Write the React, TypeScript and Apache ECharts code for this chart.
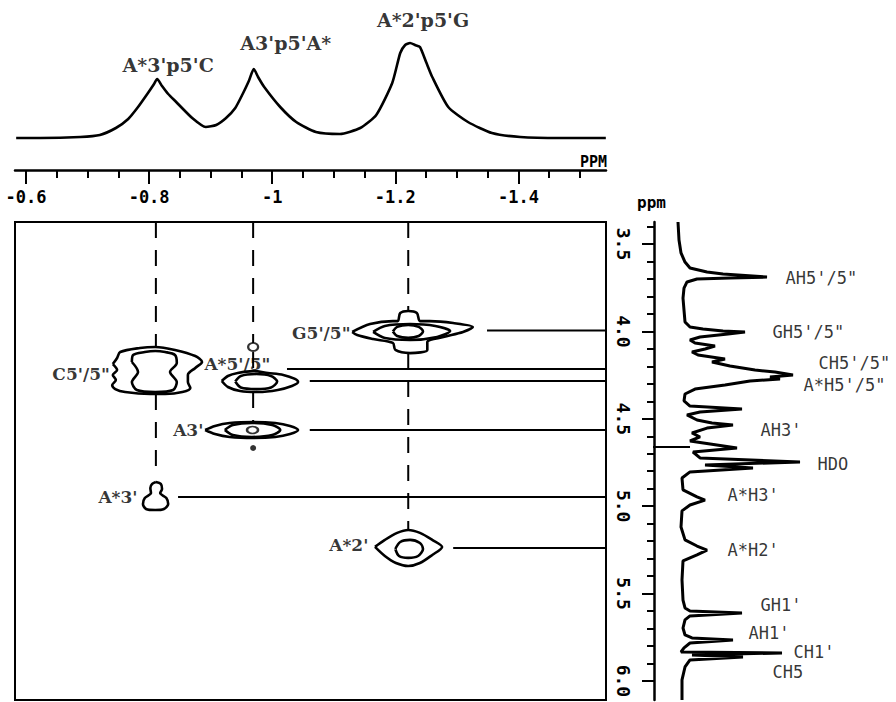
import React, { useEffect, useRef } from "react";
import * as echarts from "echarts";

// ---- axis ranges (ppm) ----
const P_MIN = -1.5423; // 31P, right edge
const P_MAX = -0.5821; // 31P, left edge
const H_MIN = 3.374; // 1H, top edge
const H_MAX = 6.109; // 1H, bottom edge

// ---- tick values / labels ----
const P_TICKS = [-0.6, -0.8, -1.0, -1.2, -1.4];
const P_TICK_LABELS = ["-0.6", "-0.8", "-1", "-1.2", "-1.4"];
const P_MINOR_TICKS = [-0.65, -0.7, -0.75, -0.85, -0.9, -0.95, -1.05, -1.1, -1.15, -1.25, -1.3, -1.35, -1.45, -1.5];
const H_TICKS = [3.5, 4.0, 4.5, 5.0, 5.5, 6.0];
const H_TICK_LABELS = ["3.5", "4.0", "4.5", "5.0", "5.5", "6.0"];
const H_MINOR_TICKS = [3.4, 3.6, 3.7, 3.8, 3.9, 4.1, 4.2, 4.3, 4.4, 4.6, 4.7, 4.8, 4.9, 5.1, 5.2, 5.3, 5.4, 5.6, 5.7, 5.8, 5.9];

// ---- 31P 1D spectrum [ppm, intensity] ----
const P_SPECTRUM = [
  [-0.584, 32], [-0.623, 32], [-0.688, 33], [-0.72, 35], [-0.746, 42], [-0.766, 51], [-0.782, 63],
  [-0.797, 76], [-0.808, 86], [-0.813, 91], [-0.821, 84], [-0.831, 76], [-0.844, 68], [-0.87, 52],
  [-0.892, 43], [-0.909, 45], [-0.925, 52], [-0.94, 62], [-0.952, 76], [-0.962, 89], [-0.97, 101],
  [-0.977, 93], [-0.987, 83], [-1.013, 63], [-1.039, 48], [-1.071, 38], [-1.11, 36], [-1.143, 42],
  [-1.169, 55], [-1.195, 87], [-1.208, 117], [-1.216, 125], [-1.224, 127], [-1.232, 125], [-1.24, 123],
  [-1.25, 108], [-1.26, 93], [-1.286, 63], [-1.318, 48], [-1.357, 37], [-1.403, 33], [-1.468, 32], [-1.542, 32],
];
const PEAK_LABELS = ["A*3'p5'C", "A3'p5'A*", "A*2'p5'G"];
const PEAK_LABEL_POS = [[-0.831, 105], [-1.022, 127], [-1.245, 150]];

// ---- 1H 1D spectrum [intensity, ppm] ----
const H_SPECTRUM = [
  [24, 3.374], [25, 3.477], [27, 3.551], [31, 3.603], [36, 3.637], [53, 3.66], [69, 3.672], [113, 3.689],
  [76, 3.695], [43, 3.7], [33, 3.717], [30, 3.752], [29, 3.809], [30, 3.878], [31, 3.946], [36, 3.975],
  [49, 3.986], [69, 3.998], [91, 4.003], [74, 4.015], [46, 4.032], [36, 4.049], [41, 4.066], [61, 4.084],
  [51, 4.101], [38, 4.118], [44, 4.135], [71, 4.158], [58, 4.175], [76, 4.198], [101, 4.221], [121, 4.232],
  [139, 4.249], [116, 4.261], [126, 4.272], [96, 4.284], [71, 4.307], [41, 4.33], [31, 4.358], [30, 4.398],
  [36, 4.427], [88, 4.444], [46, 4.461], [33, 4.478], [43, 4.507], [58, 4.524], [79, 4.535], [53, 4.553],
  [38, 4.581], [46, 4.604], [36, 4.627], [83, 4.667], [39, 4.69], [46, 4.724], [146, 4.747], [51, 4.764],
  [99, 4.781], [36, 4.804], [28, 4.839], [29, 4.907], [43, 4.947], [51, 4.965], [36, 4.993], [28, 5.027],
  [27, 5.119], [31, 5.193], [43, 5.228], [53, 5.251], [43, 5.279], [29, 5.313], [28, 5.422], [29, 5.537],
  [31, 5.582], [36, 5.6], [88, 5.611], [36, 5.628], [31, 5.651], [29, 5.697], [31, 5.737], [38, 5.754],
  [79, 5.766], [36, 5.783], [30, 5.811], [27, 5.834], [128, 5.84], [38, 5.851], [89, 5.863], [36, 5.88],
  [31, 5.92], [28, 5.994], [28, 6.109],
];
const H_LABELS = ["AH5'/5\"", "GH5'/5\"", "CH5'/5\"", "A*H5'/5\"", "AH3'", "HDO", "A*H3'", "A*H2'", "GH1'", "AH1'", "CH1'", "CH5"];
const H_LABEL_POS = [[131, 3.695], [118, 4.003], [164, 4.18], [149, 4.304], [106, 4.564], [163, 4.759], [73, 4.936], [73, 5.251], [106, 5.565], [94, 5.725], [139, 5.833], [118, 5.947]];
const HDO_BASE_LINE = [[-49, 4.661], [36, 4.661]];

// ---- 2D contours [31P ppm, 1H ppm] ----
const C_OUTER = [[-0.741, 4.187], [-0.748, 4.152], [-0.753, 4.118], [-0.785, 4.095], [-0.81, 4.089], [-0.842, 4.106], [-0.875, 4.141], [-0.886, 4.175], [-0.875, 4.209], [-0.863, 4.249], [-0.863, 4.29], [-0.867, 4.324], [-0.854, 4.347], [-0.826, 4.358], [-0.802, 4.358], [-0.761, 4.347], [-0.745, 4.33], [-0.74, 4.307], [-0.746, 4.278], [-0.741, 4.249], [-0.748, 4.221]];
const C_INNER = [[-0.772, 4.175], [-0.774, 4.135], [-0.793, 4.118], [-0.81, 4.112], [-0.826, 4.118], [-0.842, 4.135], [-0.845, 4.181], [-0.834, 4.232], [-0.845, 4.29], [-0.839, 4.335], [-0.81, 4.347], [-0.78, 4.335], [-0.772, 4.29], [-0.782, 4.232]];
const A5_OUTER = [[-0.918, 4.284], [-0.928, 4.255], [-0.944, 4.238], [-0.969, 4.227], [-0.993, 4.238], [-1.018, 4.249], [-1.037, 4.272], [-1.042, 4.29], [-1.032, 4.312], [-1.009, 4.335], [-0.977, 4.347], [-0.948, 4.341], [-0.928, 4.318]];
const A5_INNER = [[-0.94, 4.287], [-0.949, 4.255], [-0.974, 4.244], [-0.998, 4.255], [-1.008, 4.287], [-0.998, 4.321], [-0.974, 4.33], [-0.949, 4.321]];
const A3_OUTER = [[-0.891, 4.564], [-0.907, 4.541], [-0.931, 4.524], [-0.969, 4.518], [-1.005, 4.524], [-1.029, 4.541], [-1.042, 4.564], [-1.029, 4.587], [-1.005, 4.604], [-0.969, 4.61], [-0.931, 4.604], [-0.907, 4.587]];
const A3_MIDDLE = [[-0.923, 4.564], [-0.936, 4.536], [-0.967, 4.524], [-1.0, 4.536], [-1.013, 4.564], [-1.0, 4.593], [-0.967, 4.604], [-0.936, 4.593]];
const G_OUTER = [[-1.13, 4.003], [-1.159, 3.958], [-1.196, 3.941], [-1.204, 3.941], [-1.208, 3.895], [-1.221, 3.883], [-1.235, 3.895], [-1.24, 3.941], [-1.256, 3.941], [-1.294, 3.952], [-1.326, 3.975], [-1.31, 4.003], [-1.278, 4.032], [-1.252, 4.061], [-1.252, 4.106], [-1.224, 4.124], [-1.2, 4.106], [-1.196, 4.066], [-1.164, 4.044], [-1.138, 4.021]];
const G_MIDDLE = [[-1.164, 4.003], [-1.183, 3.969], [-1.224, 3.958], [-1.265, 3.969], [-1.289, 3.998], [-1.268, 4.032], [-1.224, 4.049], [-1.183, 4.038]];
const G_INNER = [[-1.196, 4.0], [-1.203, 3.974], [-1.221, 3.963], [-1.238, 3.974], [-1.245, 4.0], [-1.238, 4.026], [-1.221, 4.037], [-1.203, 4.026]];
const A3STAR_CONTOUR = [[-0.811, 4.862], [-0.819, 4.873], [-0.821, 4.902], [-0.818, 4.925], [-0.828, 4.953], [-0.831, 4.987], [-0.824, 5.016], [-0.81, 5.022], [-0.795, 5.016], [-0.79, 4.987], [-0.793, 4.953], [-0.803, 4.925], [-0.802, 4.896], [-0.805, 4.873]];
const A2_OUTER = [[-1.167, 5.233], [-1.183, 5.193], [-1.203, 5.153], [-1.221, 5.136], [-1.24, 5.153], [-1.26, 5.193], [-1.276, 5.233], [-1.26, 5.279], [-1.24, 5.325], [-1.221, 5.342], [-1.201, 5.325], [-1.183, 5.285]];
const A2_INNER = [[-1.2, 5.245], [-1.208, 5.205], [-1.224, 5.193], [-1.24, 5.211], [-1.245, 5.245], [-1.237, 5.285], [-1.221, 5.296], [-1.206, 5.285]];
const SMALL_RING_A5 = [[-0.969, 4.089]];
const SMALL_RING_A3 = [[-0.968, 4.564]];
const SMALL_DOT = [[-0.969, 4.667]];

// dashed vertical guides: 31P ppm and 1H ranges
const GUIDE_P = [-0.811, -0.969, -1.221];
const GUIDE_SPANS = [
  [[3.374, 4.089], [4.358, 4.839]],
  [[3.374, 4.066], [4.118, 4.227], [4.347, 4.513]],
  [[3.374, 3.883], [4.124, 5.136]],
];
// horizontal connectors: start 31P ppm, 1H ppm (end at panel edge)
const CONNECTORS = [[-1.349, 3.995], [-1.024, 4.215], [-1.061, 4.284], [-1.061, 4.564], [-0.847, 4.947], [-1.294, 5.239]];

// cross-peak labels
const CROSS_LABELS = ["C5'/5\"", "G5'/5\"", "A3'", "A*3'", "A*2'"];
const CROSS_LABEL_POS = [[-0.737, 4.244], [-1.128, 4.009], [-0.889, 4.564], [-0.782, 4.947], [-1.157, 5.222]];
const CROSS_LABELS_LEFT = ["A*5'/5\""];
const CROSS_LABEL_LEFT_POS = [[-0.889, 4.184]];

const SERIF = "'DejaVu Serif', serif";
const MONO = "'DejaVu Sans Mono', monospace";

export default function App() {
  const ref = useRef<HTMLDivElement>(null);
  useEffect(() => {
    if (!ref.current) return;
    const chart = echarts.init(ref.current, undefined, { renderer: "svg" });
    const black = "#000";

    const contour = (pts: number[][], width = 2.6) => ({
      type: "line",
      xAxisIndex: 2,
      yAxisIndex: 1,
      data: [...pts, pts[0]],
      symbol: "none",
      smooth: 0.3,
      lineStyle: { color: black, width },
      silent: true,
      z: 3,
    });

    const labelSeries = (names: string[], pos: number[][], xi: number, yi: number, position: string, font: any) => ({
      type: "scatter",
      xAxisIndex: xi,
      yAxisIndex: yi,
      symbol: "circle",
      symbolSize: 1,
      itemStyle: { color: "rgba(0,0,0,0)" },
      silent: true,
      z: 5,
      data: pos.map((p, i) => ({ value: p, name: names[i] })),
      label: {
        show: true,
        position,
        distance: 0,
        formatter: (d: any) => d.name,
        color: black,
        ...font,
      },
    });

    const series: any[] = [];
    // top 31P spectrum
    series.push({
      type: "line",
      xAxisIndex: 0,
      yAxisIndex: 0,
      data: P_SPECTRUM,
      symbol: "none",
      smooth: 0.2,
      lineStyle: { color: black, width: 2.6 },
      silent: true,
    });
    series.push(labelSeries(PEAK_LABELS, PEAK_LABEL_POS, 0, 0, "inside", { fontFamily: SERIF, fontWeight: "bold", fontSize: 19 }));

    // contours
    [C_OUTER, C_INNER, A5_OUTER, A5_INNER, A3_OUTER, A3_MIDDLE, G_OUTER, G_MIDDLE, G_INNER, A3STAR_CONTOUR, A2_OUTER, A2_INNER].forEach((c) =>
      series.push(contour(c))
    );
    series.push({
      type: "scatter", xAxisIndex: 2, yAxisIndex: 1, data: SMALL_RING_A5, symbol: "circle", symbolSize: [10, 8],
      itemStyle: { color: "#fff", borderColor: black, borderWidth: 2 }, silent: true, z: 4,
    });
    series.push({
      type: "scatter", xAxisIndex: 2, yAxisIndex: 1, data: SMALL_RING_A3, symbol: "circle", symbolSize: [11, 7],
      itemStyle: { color: "#fff", borderColor: black, borderWidth: 2 }, silent: true, z: 4,
    });
    series.push({
      type: "scatter", xAxisIndex: 2, yAxisIndex: 1, data: SMALL_DOT, symbol: "circle", symbolSize: 6,
      itemStyle: { color: black }, silent: true, z: 4,
    });

    // dashed guides
    GUIDE_P.forEach((p, gi) => {
      GUIDE_SPANS[gi].forEach((span) => {
        series.push({
          type: "line", xAxisIndex: 2, yAxisIndex: 1,
          data: [[p, span[0]], [p, span[1]]],
          symbol: "none",
          lineStyle: { color: black, width: 2, type: [16, 12] },
          silent: true, z: 2,
        });
      });
    });

    // connectors
    CONNECTORS.forEach((c) => {
      series.push({
        type: "line", xAxisIndex: 2, yAxisIndex: 1,
        data: [[c[0], c[1]], [P_MIN, c[1]]],
        symbol: "none",
        lineStyle: { color: black, width: 2 },
        silent: true, z: 2,
      });
    });

    series.push(labelSeries(CROSS_LABELS, CROSS_LABEL_POS, 2, 1, "left", { fontFamily: SERIF, fontWeight: "bold", fontSize: 17 }));
    series.push(labelSeries(CROSS_LABELS_LEFT, CROSS_LABEL_LEFT_POS, 2, 1, "right", { fontFamily: SERIF, fontWeight: "bold", fontSize: 17 }));

    // 1H spectrum
    series.push({
      type: "line",
      xAxisIndex: 3,
      yAxisIndex: 2,
      data: H_SPECTRUM,
      symbol: "none",
      lineStyle: { color: black, width: 3 },
      silent: true,
      clip: false,
    });
    series.push({
      type: "line",
      xAxisIndex: 3,
      yAxisIndex: 2,
      data: HDO_BASE_LINE,
      symbol: "none",
      lineStyle: { color: black, width: 2 },
      silent: true,
      clip: false,
    });
    series.push(labelSeries(H_LABELS, H_LABEL_POS, 3, 2, "right", { fontFamily: MONO, fontSize: 17 }));

    const pLabel = (v: number) => {
      const i = P_TICKS.findIndex((t) => Math.abs(t - v) < 1e-6);
      return i >= 0 ? P_TICK_LABELS[i] : "";
    };
    const hLabel = (v: number) => {
      const i = H_TICKS.findIndex((t) => Math.abs(t - v) < 1e-6);
      return i >= 0 ? H_TICK_LABELS[i] : "";
    };

    const hiddenAxisBase = { show: false, splitLine: { show: false } };

    chart.setOption({
      animation: false,
      backgroundColor: "#fff",
      grid: [
        { left: 15, right: 290, top: 0, height: 170, outerBoundsMode: "none" },
        { left: 15, right: 290, top: 222, bottom: 2, show: true, borderColor: black, borderWidth: 2, backgroundColor: "transparent", outerBoundsMode: "none" },
        { left: 654, right: 0, top: 222, bottom: 2, outerBoundsMode: "none" },
      ],
      xAxis: [
        {
          type: "value", gridIndex: 0, min: P_MIN, max: P_MAX, inverse: true, position: "bottom",
          axisLine: { show: true, lineStyle: { color: black, width: 2.5 } },
          axisTick: { show: true, customValues: P_TICKS, length: 14, inside: false, lineStyle: { color: black, width: 2 } },
          axisLabel: { show: true, customValues: P_TICKS, formatter: pLabel, margin: 18, color: black, fontFamily: MONO, fontWeight: "bold", fontSize: 17 },
          splitLine: { show: false },
        },
        {
          type: "value", gridIndex: 0, min: P_MIN, max: P_MAX, inverse: true, position: "bottom",
          axisLine: { show: false },
          axisTick: { show: true, customValues: P_MINOR_TICKS, length: 8, lineStyle: { color: black, width: 2 } },
          axisLabel: { show: false },
          splitLine: { show: false },
        },
        { type: "value", gridIndex: 1, min: P_MIN, max: P_MAX, inverse: true, ...hiddenAxisBase },
        { type: "value", gridIndex: 2, min: 0, max: 242, ...hiddenAxisBase },
      ],
      yAxis: [
        { type: "value", gridIndex: 0, min: 0, max: 170, ...hiddenAxisBase },
        { type: "value", gridIndex: 1, min: H_MIN, max: H_MAX, inverse: true, ...hiddenAxisBase },
        {
          type: "value", gridIndex: 2, min: H_MIN, max: H_MAX, inverse: true, position: "left",
          axisLine: { show: true, lineStyle: { color: black, width: 2.5 } },
          axisTick: { show: true, customValues: H_TICKS, length: 12, lineStyle: { color: black, width: 2 } },
          axisLabel: { show: true, customValues: H_TICKS, formatter: hLabel, rotate: -90, margin: 22, color: black, fontFamily: MONO, fontWeight: "bold", fontSize: 18 },
          splitLine: { show: false },
        },
        {
          type: "value", gridIndex: 2, min: H_MIN, max: H_MAX, inverse: true, position: "left",
          axisLine: { show: false },
          axisTick: { show: true, customValues: H_MINOR_TICKS, length: 7, lineStyle: { color: black, width: 2 } },
          axisLabel: { show: false },
          splitLine: { show: false },
        },
      ],
      graphic: [
        { type: "text", left: 580, top: 154, style: { text: "PPM", fill: black, font: `bold 15px ${MONO}` } },
        { type: "text", left: 637, top: 194, style: { text: "ppm", fill: black, font: `bold 16px ${MONO}` } },
      ],
      series,
    });
    return () => chart.dispose();
  }, []);
  return <div ref={ref} style={{ position: "absolute", left: 0, top: 0, width: 896, height: 702, background: "#fff" }} />;
}
